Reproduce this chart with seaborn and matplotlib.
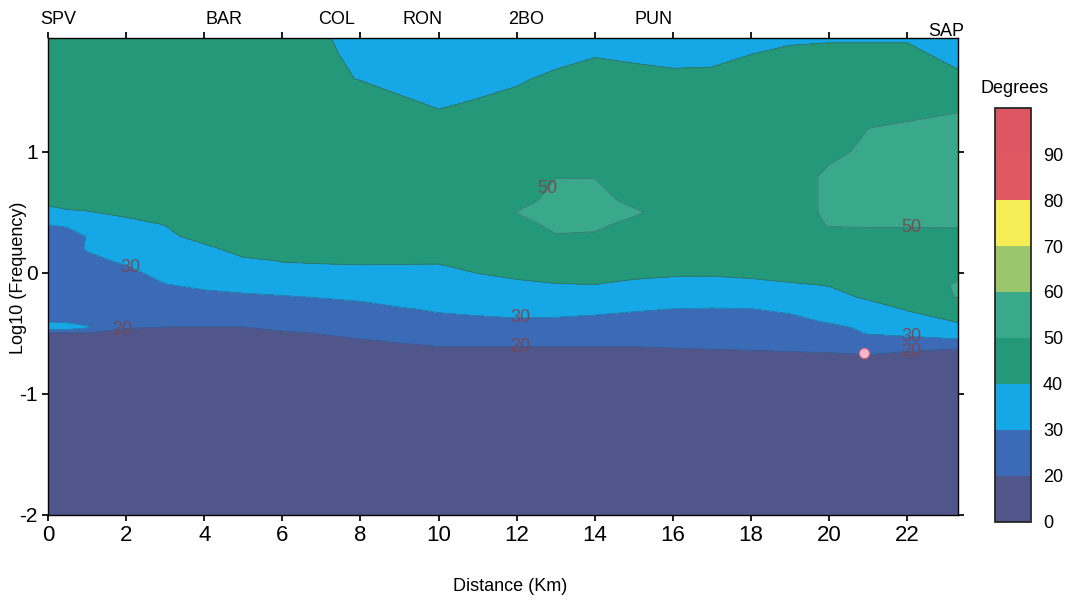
import numpy as np
import matplotlib
matplotlib.use("Agg")
import matplotlib.pyplot as plt
import seaborn as sns

sns.set_theme(style="ticks")
plt.rcParams['font.family'] = ['Liberation Sans', 'DejaVu Sans']
plt.rcParams['axes.unicode_minus'] = False
plt.rcParams['text.color'] = 'black'
plt.rcParams['xtick.color'] = 'black'
plt.rcParams['ytick.color'] = 'black'

# grid
distance_km = [0, 0.5, 1, 2, 3, 4, 5, 6, 7, 8, 9, 10, 11, 12,
               13, 14, 15, 16, 17, 18, 19, 20, 21, 22, 23.3]
log_freq = [-2.0, -0.8, -0.7, -0.6, -0.5, -0.45, -0.4, -0.3, -0.2, -0.1, 0.0,
            0.1, 0.2, 0.3, 0.4, 0.5, 0.6, 0.8, 1.0, 1.2, 1.4, 1.6, 1.8, 1.94]

# one profile (Degrees) per distance, bottom -> top in log_freq order
degrees = [
    [8, 12, 14, 16, 18, 38, 29, 25, 25, 25, 25, 25, 25, 27, 30.1, 34.1, 45, 45, 45, 45, 45, 45, 45, 45],      # 0
    [8, 12, 14, 16, 18.5, 36, 28, 25, 25, 25, 25, 25, 25, 27, 31, 38.5, 45, 45, 45, 45, 45, 45, 45, 45],      # 0.5
    [8, 12, 14, 16, 19, 31, 27, 25, 25, 25, 25, 27, 31, 30.2, 33, 39.4, 45, 45, 45, 45, 45, 45, 45, 45],      # 1
    [8, 12, 14, 16, 18, 20.5, 23, 25, 25, 24, 27, 31.8, 35, 36, 37, 42.1, 45, 45, 45, 45, 45, 45, 45, 45],    # 2
    [8, 12, 14, 16, 17, 19.8, 23, 25, 26, 29.5, 34, 35, 36, 37, 40.3, 44, 45, 45, 45, 45, 45, 45, 45, 45],    # 3
    [8, 12, 14, 16, 17, 19.8, 23, 25, 27, 32, 34, 35, 37, 44.7, 45, 45, 45, 45, 45, 45, 45, 45, 45, 45],      # 4
    [8, 12, 14, 16, 17, 19.8, 23, 25, 28, 34.1, 36, 38, 44.9, 45, 45, 45, 45, 45, 45, 45, 45, 45, 45, 45],    # 5
    [8, 12, 14, 16, 18, 23, 24, 25, 29.5, 33.4, 37, 40.4, 44, 45, 45, 45, 45, 45, 45, 45, 45, 45, 45, 45],    # 6
    [8, 12, 15, 17, 20.3, 22, 23, 27, 30.3, 33, 37, 41, 44, 45, 45, 45, 45, 45, 45, 45, 45, 41.7, 43.4, 41.6],  # 7
    [8, 12, 15.5, 17, 22.5, 23.5, 24, 27, 31.6, 34, 37, 41.5, 44, 45, 45, 45, 45, 45, 45, 45, 45, 39.7, 36, 35],  # 8
    [8, 12, 16, 19, 24, 24.5, 25, 29, 34.6, 35, 37, 41.3, 44, 45, 45, 45, 45, 45, 45, 45, 42, 36.3, 34, 33],  # 9
    [8, 12, 17, 20.3, 23, 24, 27, 31.2, 34, 35, 37, 41.1, 44, 45, 45, 45, 45, 45, 45, 44, 38.7, 35, 33, 32],  # 10
    [8, 12, 17, 20.3, 23, 25.5, 28, 32.3, 34, 36, 40.2, 44, 45, 45, 45, 45, 45, 45, 45, 45, 41, 36, 34, 33],  # 11
    [8, 12, 17, 20.3, 23, 25.5, 29, 32.6, 35, 38, 42.3, 45, 45, 45, 45, 50.3, 45, 45, 45, 45, 44, 38.3, 36, 35],  # 12
    [8, 12, 17, 20.3, 23, 25.5, 28.5, 33, 35, 39.5, 43.7, 45, 46, 49, 53.5, 54, 54, 49.6, 46, 45, 45, 43, 35.5, 34],  # 13
    [8, 12, 17, 20.3, 23, 25.5, 28, 31.9, 34, 39.8, 44.8, 45, 47, 48.5, 52.3, 54, 54, 49.5, 46, 45, 45, 45, 39.4, 37],  # 14
    [8, 12, 17, 20.3, 23, 25.5, 27, 30.8, 34, 38, 42.3, 45, 45, 46, 47, 51.7, 47, 46, 45, 45, 45, 44, 37.9, 36],  # 15
    [8, 12, 17, 20.8, 23, 24, 25, 29.9, 33.2, 37, 41.4, 45, 45, 45, 45, 45, 45, 45, 45, 45, 45, 42.5, 36.9, 35],  # 16
    [8, 12, 18, 20.9, 23, 24, 25, 29.5, 34.5, 37, 41.1, 45, 45, 45, 45, 45, 45, 45, 45, 45, 45, 43, 37, 35],  # 17
    [8, 12, 18, 21.3, 23.5, 24, 25, 29.8, 34.8, 37.5, 42.2, 45, 45, 45, 45, 45, 45, 45, 45, 45, 45, 45, 40.1, 37],  # 18
    [8, 12, 18.5, 21.5, 24, 25, 27.5, 31.5, 35, 39, 43.8, 45, 45, 45, 45, 45, 45, 45, 45, 45, 45, 45, 45, 36.2],  # 19
    [8, 12, 19, 21.5, 25, 27.5, 30.9, 34, 37, 40.4, 44, 45, 46, 47.5, 50.6, 52, 52, 52, 47.6, 45, 45, 45, 45, 38],  # 20
    [8, 13, 19, 23, 30.5, 32, 33, 36, 41.3, 44, 45, 45, 45, 47, 51, 53, 53, 53, 52, 49.9, 46, 45, 45, 38],  # 21
    [8, 13, 17, 23, 32.1, 34, 36, 40.6, 44, 45, 45, 45, 45, 47, 51, 53, 53, 53, 53, 51, 47, 45, 45, 38],  # 22
    [8, 13, 16, 21.6, 36.9, 38.5, 40.5, 44, 50.5, 51, 48, 46, 46, 47, 51.2, 54, 54, 54, 54, 53, 48.1, 44, 34, 33],  # 23.3
]

levels = [0, 20, 30, 40, 50, 60, 70, 80, 90, 100]
band_colors = ['#50568a', '#3b6bb6', '#16a8e6', '#24997a', '#3aa88a',
               '#9cc66c', '#f6ec55', '#df5862', '#dc5762']

stations = ['SPV', 'BAR', 'COL', 'RON', '2BO', 'PUN', 'SAP']
station_km = [0.26, 4.5, 7.4, 9.6, 12.25, 15.5, 23.0]

spot_km = [20.9]
spot_logf = [-0.66]

fig = plt.figure(figsize=(10.69, 6.0), dpi=100)
ax = fig.add_axes([0.0449, 0.1417, 0.8513, 0.795])

X, Y = np.meshgrid(distance_km, log_freq)
Z = np.array(degrees).T

cf = ax.contourf(X, Y, Z, levels=levels, colors=band_colors)
ax.contour(X, Y, Z, levels=[40], colors='#3d4660', linewidths=0.6, alpha=0.5)
cs = ax.contour(X, Y, Z, levels=[20, 30, 50], colors='#3d4660',
                linewidths=0.6, alpha=0.5)
labels = ax.clabel(cs, inline=False, fmt='%d', fontsize=13, colors='#7a4650',
                   manual=[(1.9, -0.5), (2.1, 0.04), (12.6, 0.74), (12.1, -0.38),
                           (12.1, -0.62), (22.1, 0.37), (22.1, -0.53), (22.1, -0.65)])
for t in labels:
    t.set_alpha(0.9)
    t.set_rotation(0)

ax.scatter(spot_km, spot_logf, s=55, color='#f3b8c8', edgecolor='#d06080',
           linewidth=0.8, zorder=5)

ax.set_xlim(0, 23.3)
ax.set_ylim(-2, 1.94)
ax.set_xticks(range(0, 23, 2))
ax.set_yticks([-2, -1, 0, 1])
ax.tick_params(axis='x', labelsize=16, length=4, direction='out', top=True)
ax.tick_params(axis='y', labelsize=15, length=4, direction='out', right=True)
for s in ax.spines.values():
    s.set_color('black')
    s.set_linewidth(1)

for name, km in zip(stations, station_km):
    yy = 1.013 if name == 'SAP' else 1.038
    ax.text(km, yy, name, transform=ax.get_xaxis_transform(),
            ha='center', va='center', fontsize=13)

fig.text(0.477, 0.022, 'Distance (Km)', ha='center', va='center', fontsize=13)
fig.text(0.017, 0.537, 'Log10 (Frequency)', ha='center', va='center',
         rotation=90, fontsize=13)

cax = fig.add_axes([0.931, 0.13, 0.033, 0.69])
cbar = fig.colorbar(cf, cax=cax, ticks=[0, 20, 30, 40, 50, 60, 70, 80, 90])
cbar.ax.tick_params(length=0, pad=9, labelsize=13)
cbar.outline.set_edgecolor('#222222')
fig.text(0.949, 1 - 88 / 600, 'Degrees', ha='center', va='center', fontsize=13)

fig.savefig('out.png', dpi=100)
plt.close(fig)
